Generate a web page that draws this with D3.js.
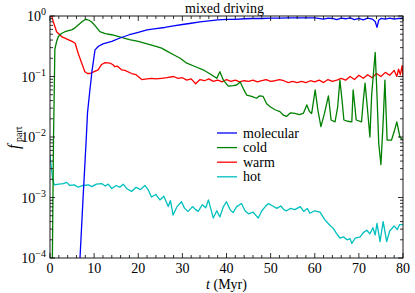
<!DOCTYPE html>
<html>
<head>
<meta charset="utf-8">
<script src="https://cdn.jsdelivr.net/npm/d3@7"></script>
<style>
  body { margin: 0; background: #fff; }
  svg text { font-family: "Times New Roman", "Liberation Serif", "DejaVu Serif", "Noto Serif", serif; }
</style>
</head>
<body>
<figure style="margin:0"></figure>
<script>
const molecularT = [6.5, 6.8, 7.5, 8.2, 8.5, 9.0, 9.5, 10.2, 11, 12, 14, 16, 18, 20, 22, 24, 26, 28, 30, 32, 34, 36, 38, 40, 42, 44, 46, 48, 50, 52, 54, 56, 58, 60, 62, 63, 64, 65, 66, 67, 68, 69, 70, 71, 72, 73, 73.7, 74.1, 74.5, 75, 76, 77, 78, 79, 80];
const molecularF = [5e-5, 1e-4, 1e-3, 0.0089, 0.025, 0.056, 0.12, 0.275, 0.316, 0.347, 0.38, 0.437, 0.49, 0.537, 0.589, 0.617, 0.646, 0.684, 0.724, 0.759, 0.80, 0.83, 0.86, 0.88, 0.88, 0.90, 0.91, 0.91, 0.92, 0.92, 0.93, 0.93, 0.93, 0.93, 0.89, 0.92, 0.91, 0.87, 0.92, 0.90, 0.93, 0.87, 0.91, 0.86, 0.92, 0.89, 0.81, 0.65, 0.85, 0.91, 0.89, 0.92, 0.89, 0.91, 0.92];

const coldT = [0.5, 0.8, 1.1, 1.5, 1.9, 2.6, 3.4, 4.2, 4.9, 5.6, 6.4, 7.2, 7.8, 8.3, 8.8, 9.4, 10.2, 11.3, 12.5, 14, 16, 18, 20, 22, 24, 25.3, 26.5, 28, 29.5, 31, 33, 34.7, 36.3, 37.8, 38.5, 39.3, 40.4, 41.5, 42.3, 43.1, 43.8, 44.6, 45.7, 46.8, 47.5, 48.3, 49.1, 49.9, 51, 52.1, 52.9, 53.6, 54.5, 55.5, 56.5, 57.4, 58.2, 58.8, 59.3, 60.1, 60.7, 61.4, 62.2, 63.1, 63.7, 64.6, 65.2, 65.7, 66.2, 66.6, 67.5, 68.4, 68.7, 69.1, 69.4, 70.6, 71, 71.4, 71.9, 72.5, 72.9, 73.3, 73.7, 74.1, 74.5, 75, 75.5, 75.9, 76.4, 77.4, 78, 78.6, 79.3, 80];
const coldF = [5e-5, 0.01, 0.282, 0.380, 0.457, 0.513, 0.550, 0.575, 0.589, 0.631, 0.708, 0.794, 0.861, 0.881, 0.851, 0.805, 0.692, 0.550, 0.513, 0.490, 0.447, 0.407, 0.380, 0.347, 0.316, 0.295, 0.263, 0.229, 0.200, 0.166, 0.145, 0.129, 0.110, 0.0933, 0.120, 0.0871, 0.0692, 0.0708, 0.0724, 0.0813, 0.0631, 0.0490, 0.0468, 0.0437, 0.0479, 0.0468, 0.0355, 0.0316, 0.0282, 0.0263, 0.0229, 0.0219, 0.0251, 0.0245, 0.0234, 0.0245, 0.0339, 0.0263, 0.0245, 0.0603, 0.0282, 0.0148, 0.0245, 0.0479, 0.0191, 0.0178, 0.0316, 0.0871, 0.0398, 0.0191, 0.0182, 0.0178, 0.0603, 0.0316, 0.0191, 0.0178, 0.0398, 0.0776, 0.0316, 0.01, 0.0501, 0.112, 0.251, 0.0501, 0.0079, 0.0035, 0.0178, 0.0871, 0.0089, 0.0089, 0.0123, 0.0178, 0.01, 0.0089];

const warmT = [0, 0.4, 0.75, 1.5, 2.6, 4.1, 5, 5.7, 6.4, 7.2, 7.9, 8.5, 9.1, 10, 10.9, 11.7, 12.5, 13.6, 14.2, 14.7, 15.3, 16.2, 17, 18.5, 19.5, 20.8, 22, 23, 24, 25.3, 26.5, 28, 29, 30, 31, 32, 33, 34, 35, 36, 37, 38, 39, 40, 41, 42, 43, 44, 45, 46, 47, 48, 49, 50, 51, 52, 53, 54, 55, 56, 57, 58, 59, 60, 61, 62, 63, 64, 65, 66, 67, 68, 69, 70, 71, 72, 73, 74, 75, 76, 77, 78, 78.6, 79, 79.4, 79.8, 80];
const warmF = [1.12, 1.0, 0.805, 0.550, 0.457, 0.407, 0.380, 0.355, 0.240, 0.166, 0.120, 0.112, 0.112, 0.120, 0.129, 0.158, 0.170, 0.166, 0.158, 0.145, 0.148, 0.129, 0.126, 0.112, 0.107, 0.0891, 0.0912, 0.0933, 0.0912, 0.0933, 0.0955, 0.100, 0.0933, 0.0955, 0.0871, 0.0912, 0.0759, 0.0891, 0.0851, 0.0912, 0.0832, 0.0871, 0.0813, 0.0891, 0.0832, 0.0871, 0.0813, 0.0851, 0.0832, 0.0871, 0.0813, 0.0851, 0.0891, 0.0832, 0.0851, 0.0891, 0.0851, 0.0794, 0.0832, 0.0794, 0.0832, 0.0794, 0.0851, 0.0813, 0.0871, 0.0794, 0.0891, 0.0832, 0.0871, 0.0933, 0.0871, 0.100, 0.0891, 0.105, 0.0933, 0.107, 0.0955, 0.112, 0.100, 0.117, 0.105, 0.126, 0.100, 0.132, 0.107, 0.151, 0.100];

const hotT = [0, 0.3, 0.6, 1, 2, 3, 3.8, 4.5, 5.5, 6.4, 7.5, 8.7, 9.5, 10.5, 11.7, 12.5, 13.2, 14, 15, 15.8, 16.6, 17.5, 18.5, 19.5, 20.5, 21.5, 22.3, 23, 24, 24.9, 25.8, 26.8, 27.3, 27.9, 28.8, 29.8, 30.5, 31.3, 32.3, 33, 33.6, 34.5, 35.3, 35.9, 36.5, 37, 37.8, 38.5, 39.3, 40, 40.8, 41.5, 42.3, 43.4, 44.2, 45, 46, 47.2, 48, 48.8, 49.5, 50.5, 51.4, 52.3, 53, 53.6, 54.5, 55.5, 56.7, 57.5, 58.3, 58.9, 60, 61.2, 62.3, 63.3, 64.2, 65, 65.7, 66.5, 67.3, 68, 68.4, 69.2, 70.3, 71, 71.8, 72.5, 73.2, 73.7, 74.1, 74.8, 75.5, 76, 76.3, 77, 77.4, 78, 78.7, 79.2, 80];
const hotF = [0.005, 0.00316, 0.002, 0.00162, 0.00166, 0.0017, 0.00178, 0.00158, 0.00162, 0.00148, 0.00158, 0.00162, 0.00151, 0.00166, 0.0017, 0.00155, 0.00166, 0.00141, 0.00158, 0.00148, 0.00166, 0.00138, 0.00126, 0.00148, 0.00135, 0.00158, 0.00132, 0.00102, 0.00112, 0.000912, 0.00105, 0.000708, 0.000891, 0.000513, 0.000708, 0.000851, 0.000661, 0.000589, 0.000708, 0.000631, 0.000589, 0.000759, 0.000676, 0.000912, 0.000631, 0.000457, 0.000603, 0.000479, 0.000708, 0.000851, 0.000631, 0.000562, 0.000708, 0.000794, 0.000603, 0.000537, 0.000575, 0.000457, 0.000603, 0.000708, 0.000794, 0.000724, 0.000661, 0.000724, 0.000631, 0.000603, 0.000661, 0.000631, 0.000708, 0.000589, 0.000661, 0.00055, 0.000603, 0.000575, 0.000427, 0.000355, 0.000309, 0.000251, 0.000214, 0.000224, 0.0002, 0.000209, 0.000174, 0.000214, 0.000224, 0.000263, 0.000288, 0.000251, 0.000316, 0.00024, 0.000372, 0.000186, 0.000398, 0.000251, 0.000186, 0.000282, 0.000302, 0.000339, 0.000295, 0.000355, 0.000355];

const seriesNames = ['molecular', 'cold', 'warm', 'hot'];
const seriesColors = ['#0000ff', '#008000', '#ff0000', '#00bfbf'];
const xTicks = [0, 10, 20, 30, 40, 50, 60, 70, 80];
const yExponents = [0, -1, -2, -3, -4];

(() => {
  const totalWidth = 415;
  const totalHeight = 293;
  const margin = {top: 16, right: 12, bottom: 35, left: 50};
  const graphWidth = totalWidth - margin.left - margin.right;
  const graphHeight = totalHeight - margin.top - margin.bottom;

  const svg = d3.select('figure').append('svg')
    .attr('width', totalWidth)
    .attr('height', totalHeight);

  const g = svg.append('g').attr('transform', 'translate(' + margin.left + ',' + margin.top + ')');

  const x = d3.scaleLinear().domain([0, 80]).range([0, graphWidth]);
  const y = d3.scaleLog().domain([1e-4, 1]).range([graphHeight, 0]);

  g.append('clipPath').attr('id', 'clip')
    .append('rect').attr('width', graphWidth).attr('height', graphHeight);

  const series = [
    [molecularT, molecularF],
    [coldT, coldF],
    [warmT, warmF],
    [hotT, hotF]
  ];

  const line = d3.line().x((d) => x(d[0])).y((d) => y(d[1]));

  // hot first, molecular on top
  [3, 2, 1, 0].forEach((i) => {
    const pts = series[i][0].map((t, k) => [t, series[i][1][k]]);
    g.append('path')
      .datum(pts)
      .attr('clip-path', 'url(#clip)')
      .attr('fill', 'none')
      .attr('stroke', seriesColors[i])
      .attr('stroke-width', 1.3)
      .attr('stroke-linejoin', 'round')
      .attr('d', line);
  });

  // inward ticks on all four sides
  const xMinor = d3.range(0, 81, 2);
  const yMinor = [];
  for (let e = -4; e < 0; e++) for (let m = 2; m < 10; m++) yMinor.push(m * Math.pow(10, e));

  const tk = g.append('g').attr('stroke', '#000').attr('stroke-width', 0.8);
  xMinor.forEach((v) => {
    const len = v % 10 === 0 ? 5 : 3;
    tk.append('line').attr('x1', x(v)).attr('x2', x(v)).attr('y1', graphHeight).attr('y2', graphHeight - len);
    tk.append('line').attr('x1', x(v)).attr('x2', x(v)).attr('y1', 0).attr('y2', len);
  });
  yExponents.forEach((e) => {
    const v = Math.pow(10, e);
    tk.append('line').attr('x1', 0).attr('x2', 5).attr('y1', y(v)).attr('y2', y(v));
    tk.append('line').attr('x1', graphWidth).attr('x2', graphWidth - 5).attr('y1', y(v)).attr('y2', y(v));
  });
  yMinor.forEach((v) => {
    tk.append('line').attr('x1', 0).attr('x2', 3).attr('y1', y(v)).attr('y2', y(v));
    tk.append('line').attr('x1', graphWidth).attr('x2', graphWidth - 3).attr('y1', y(v)).attr('y2', y(v));
  });

  g.append('rect')
    .attr('width', graphWidth).attr('height', graphHeight)
    .attr('fill', 'none').attr('stroke', '#000').attr('stroke-width', 0.9);

  // tick labels
  g.append('g').selectAll('text').data(xTicks).join('text')
    .attr('x', (d) => x(d)).attr('y', graphHeight + 15)
    .attr('text-anchor', 'middle').attr('font-size', 14)
    .text((d) => d);

  const yl = g.append('g').selectAll('text').data(yExponents).join('text')
    .attr('x', -4).attr('y', (d) => y(Math.pow(10, d)) + 5)
    .attr('text-anchor', 'end').attr('font-size', 14);
  yl.append('tspan').text('10');
  yl.append('tspan').attr('dy', -6).attr('font-size', 10).text((d) => d === 0 ? '0' : '\u2212' + (-d));

  // title and axis labels
  g.append('text').attr('x', x(40) - 2).attr('y', -3)
    .attr('text-anchor', 'middle').attr('font-size', 14).text('mixed driving');

  const xl = g.append('text').attr('x', x(40)).attr('y', graphHeight + 31)
    .attr('text-anchor', 'middle').attr('font-size', 14);
  xl.append('tspan').attr('font-style', 'italic').text('t');
  xl.append('tspan').text(' (Myr)');

  const ylab = svg.append('g')
    .attr('transform', 'translate(19,' + (margin.top + graphHeight / 2 + 12) + ') rotate(-90)');
  ylab.append('text').attr('x', 0).attr('y', 0)
    .attr('font-size', 16).attr('font-style', 'italic').text('f');
  ylab.append('text').attr('x', 7).attr('y', 3)
    .attr('font-size', 10).text('part');

  // legend
  const lg = g.append('g').attr('transform', 'translate(' + (217 - margin.left) + ',' + (133 - margin.top) + ')');
  seriesNames.forEach((name, i) => {
    lg.append('line').attr('x1', 0).attr('x2', 20).attr('y1', i * 14.6).attr('y2', i * 14.6)
      .attr('stroke', seriesColors[i]).attr('stroke-width', 1.3);
    lg.append('text').attr('x', 26).attr('y', i * 14.6 + 4.5).attr('font-size', 14).text(name);
  });
})();
</script>
</body>
</html>
